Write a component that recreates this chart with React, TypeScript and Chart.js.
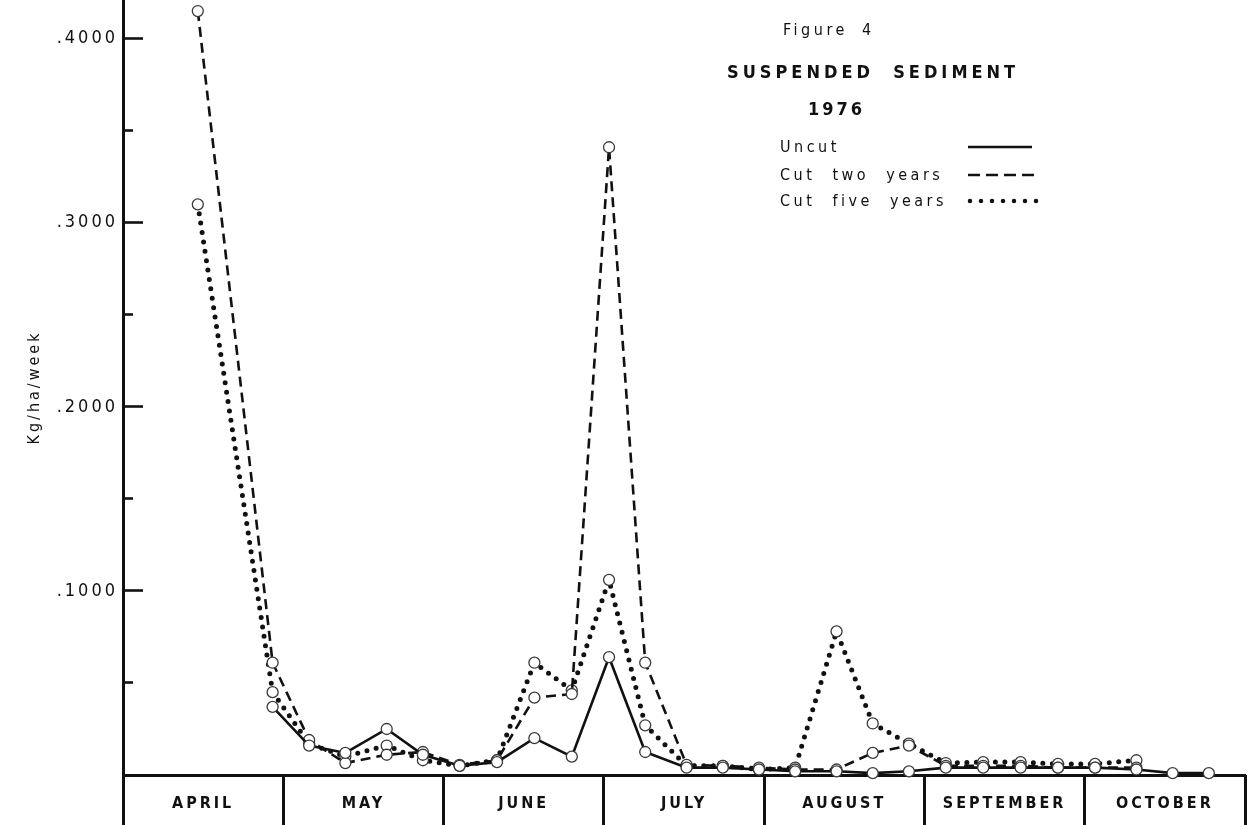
import React, { useEffect, useRef } from 'react';
import { Chart, registerables } from 'chart.js';

Chart.register(...registerables);

// ---------- data ----------
const MONTHS = ['APRIL', 'MAY', 'JUNE', 'JULY', 'AUGUST', 'SEPTEMBER', 'OCTOBER'];
const FIRST_MONTH = 4; // April

const DATES = [
  '1976-04-15', '1976-04-29', '1976-05-06', '1976-05-13', '1976-05-21', '1976-05-28',
  '1976-06-04', '1976-06-11', '1976-06-18', '1976-06-25', '1976-07-02', '1976-07-09',
  '1976-07-17', '1976-07-24', '1976-07-31', '1976-08-07', '1976-08-15', '1976-08-22',
  '1976-08-29', '1976-09-05', '1976-09-12', '1976-09-19', '1976-09-26', '1976-10-03',
  '1976-10-11', '1976-10-18', '1976-10-25',
];

const UNCUT = [
  null, 0.037, 0.016, 0.012, 0.025, 0.011,
  0.005, 0.007, 0.020, 0.010, 0.064, 0.0125,
  0.004, 0.004, 0.003, 0.002, 0.002, 0.001,
  0.002, 0.004, 0.004, 0.004, 0.004, 0.004,
  0.003, 0.001, 0.001,
];

const CUT_TWO = [
  0.415, 0.061, 0.019, 0.0065, 0.011, 0.0125,
  0.0055, 0.008, 0.042, 0.044, 0.341, 0.061,
  0.0055, 0.005, 0.004, 0.003, 0.003, 0.012,
  0.016, 0.005, 0.005, 0.005, 0.004, 0.004,
  0.004, null, null,
];

const CUT_FIVE = [
  0.310, 0.045, 0.017, 0.010, 0.016, 0.008,
  0.005, 0.008, 0.061, 0.046, 0.106, 0.027,
  0.005, 0.005, 0.003, 0.004, 0.078, 0.028,
  0.017, 0.0065, 0.007, 0.007, 0.006, 0.006,
  0.008, null, null,
];

const Y_MAJOR_TICKS = [0.1, 0.2, 0.3, 0.4];
const Y_MINOR_TICKS = [0.05, 0.15, 0.25, 0.35];
const Y_MAX = 0.421;

const SERIES_NAMES = ['Uncut', 'Cut two years', 'Cut five years'];
const FIG_LABEL = 'Figure 4';
const FIG_TITLE = 'SUSPENDED  SEDIMENT';
const FIG_YEAR = '1976';
const Y_TITLE = 'Kg/ha/week';

// ---------- helpers ----------
const FONT = '"DejaVu Sans Condensed", "Liberation Sans Narrow", "DejaVu Sans", sans-serif';

function monthPos(iso: string): number {
  const [y, m, d] = iso.split('-').map(Number);
  const days = new Date(y, m, 0).getDate();
  return m - FIRST_MONTH + (d - 1) / days;
}

function toPoints(values: (number | null)[]) {
  return DATES.map((iso, i) => ({ x: monthPos(iso), y: values[i] }));
}

const letterSpacingPlugin = {
  id: 'letterSpacing',
  beforeDraw(chart: any) {
    try {
      chart.ctx.letterSpacing = '3px';
    } catch (e) {
      /* ignore */
    }
  },
};

const pointStyle = {
  pointRadius: 5.5,
  pointBorderWidth: 1.3,
  pointBorderColor: '#3a3a3a',
  pointBackgroundColor: '#ffffff',
  pointHoverRadius: 5.5,
};

export default function App() {
  const canvasRef = useRef<HTMLCanvasElement | null>(null);

  useEffect(() => {
    const canvas = canvasRef.current;
    if (!canvas) return;

    const chart = new Chart(canvas, {
      type: 'line',
      data: {
        datasets: [
          {
            label: SERIES_NAMES[0],
            data: toPoints(UNCUT) as any,
            borderColor: '#111',
            borderWidth: 2.6,
            ...pointStyle,
          },
          {
            label: SERIES_NAMES[1],
            data: toPoints(CUT_TWO) as any,
            borderColor: '#111',
            borderWidth: 2.6,
            borderDash: [10, 6],
            ...pointStyle,
          },
          {
            label: SERIES_NAMES[2],
            data: toPoints(CUT_FIVE) as any,
            borderColor: '#111',
            borderWidth: 5,
            borderDash: [0, 9.5],
            borderCapStyle: 'round',
            ...pointStyle,
          },
        ],
      },
      options: {
        animation: false,
        responsive: false,
        maintainAspectRatio: false,
        clip: false as any,
        layout: { autoPadding: false, padding: { left: 0, right: 4, top: 0, bottom: 0 } },
        plugins: {
          legend: { display: false },
          tooltip: { enabled: false },
          title: { display: false },
        },
        elements: { line: { tension: 0 } },
        scales: {
          x: {
            type: 'linear',
            position: 'bottom',
            min: 0,
            max: MONTHS.length,
            weight: 1,
            afterBuildTicks: (s: any) => {
              s.ticks = MONTHS.map((_, i) => ({ value: i + 0.5 }));
            },
            afterFit: (s: any) => {
              s.height = 50;
              s.paddingLeft = 0;
              s.paddingRight = 0;
            },
            ticks: {
              callback: (_v: any, i: number) => MONTHS[i],
              color: '#111',
              font: { family: FONT, size: 16, weight: 'bold' },
              padding: 19,
              autoSkip: false,
              maxRotation: 0,
              minRotation: 0,
            },
            grid: { display: false, drawTicks: false },
            border: { display: true, width: 3, color: '#111' },
          },
          xb: {
            type: 'linear',
            position: 'bottom',
            min: 0,
            max: MONTHS.length,
            weight: 0,
            afterBuildTicks: (s: any) => {
              s.ticks = [...MONTHS.map((_, i) => ({ value: i })), { value: MONTHS.length }];
            },
            afterFit: (s: any) => {
              s.height = 0;
              s.paddingLeft = 0;
              s.paddingRight = 0;
            },
            ticks: { display: false },
            grid: {
              display: true,
              drawOnChartArea: false,
              drawTicks: true,
              tickLength: 60,
              tickWidth: 3,
              tickColor: '#111',
            },
            border: { display: false },
          },
          y: {
            type: 'linear',
            position: 'left',
            min: 0,
            max: Y_MAX,
            weight: 1,
            afterBuildTicks: (s: any) => {
              s.ticks = Y_MAJOR_TICKS.map((v) => ({ value: v }));
            },
            afterFit: (s: any) => {
              s.width = 123;
              s.paddingTop = 0;
              s.paddingBottom = 0;
            },
            ticks: {
              callback: (v: any) => '.' + Math.round(Number(v) * 10000).toString(),
              color: '#111',
              font: { family: FONT, size: 18 },
              padding: 25,
            },
            grid: {
              drawOnChartArea: false,
              drawTicks: true,
              tickLength: -20,
              tickWidth: 2.6,
              tickColor: '#111',
            },
            border: { display: true, width: 3, color: '#111' },
            title: {
              display: true,
              text: Y_TITLE,
              color: '#111',
              font: { family: FONT, size: 16 },
              padding: { top: 25, bottom: 0 },
            },
          },
          y2: {
            type: 'linear',
            position: 'left',
            min: 0,
            max: Y_MAX,
            weight: 0,
            afterBuildTicks: (s: any) => {
              s.ticks = Y_MINOR_TICKS.map((v) => ({ value: v }));
            },
            afterFit: (s: any) => {
              s.width = 0;
              s.paddingTop = 0;
              s.paddingBottom = 0;
            },
            ticks: { display: false },
            grid: {
              drawOnChartArea: false,
              drawTicks: true,
              tickLength: -10,
              tickWidth: 2.6,
              tickColor: '#111',
            },
            border: { display: false },
          },
        },
      } as any,
      plugins: [letterSpacingPlugin],
    });

    return () => chart.destroy();
  }, []);

  const textBase: React.CSSProperties = {
    position: 'absolute',
    fontFamily: FONT,
    color: '#111',
    whiteSpace: 'pre',
    lineHeight: '20px',
    height: 20,
  };

  return (
    <div
      style={{
        position: 'fixed',
        left: 0,
        top: 0,
        width: 1249,
        height: 825,
        background: '#fff',
        overflow: 'hidden',
      }}
    >
      <canvas ref={canvasRef} width={1249} height={825} style={{ display: 'block', width: 1249, height: 825 }} />

      <div style={{ ...textBase, left: 783, top: 20, fontSize: 16, letterSpacing: '3.5px', wordSpacing: '6px' }}>
        {FIG_LABEL}
      </div>
      <div style={{ ...textBase, left: 727, top: 62, fontSize: 18, letterSpacing: '4px', fontWeight: 'bold' }}>
        {FIG_TITLE}
      </div>
      <div style={{ ...textBase, left: 808, top: 99, fontSize: 18, letterSpacing: '3px', fontWeight: 'bold' }}>
        {FIG_YEAR}
      </div>

      <div style={{ ...textBase, left: 780, top: 137, fontSize: 16, letterSpacing: '3.5px', wordSpacing: '9px' }}>
        {SERIES_NAMES[0]}
      </div>
      <div style={{ ...textBase, left: 780, top: 165, fontSize: 16, letterSpacing: '3.5px', wordSpacing: '9px' }}>
        {SERIES_NAMES[1]}
      </div>
      <div style={{ ...textBase, left: 780, top: 191, fontSize: 16, letterSpacing: '3.5px', wordSpacing: '9px' }}>
        {SERIES_NAMES[2]}
      </div>

      <svg
        width={100}
        height={80}
        style={{ position: 'absolute', left: 960, top: 135 }}
        viewBox="0 0 100 80"
      >
        <line x1={8} y1={12} x2={72} y2={12} stroke="#111" strokeWidth={2.6} />
        <line x1={8} y1={40} x2={80} y2={40} stroke="#111" strokeWidth={2.6} strokeDasharray="12 6" />
        <line
          x1={10}
          y1={66}
          x2={85}
          y2={66}
          stroke="#111"
          strokeWidth={4.5}
          strokeDasharray="0 11"
          strokeLinecap="round"
        />
      </svg>
    </div>
  );
}
